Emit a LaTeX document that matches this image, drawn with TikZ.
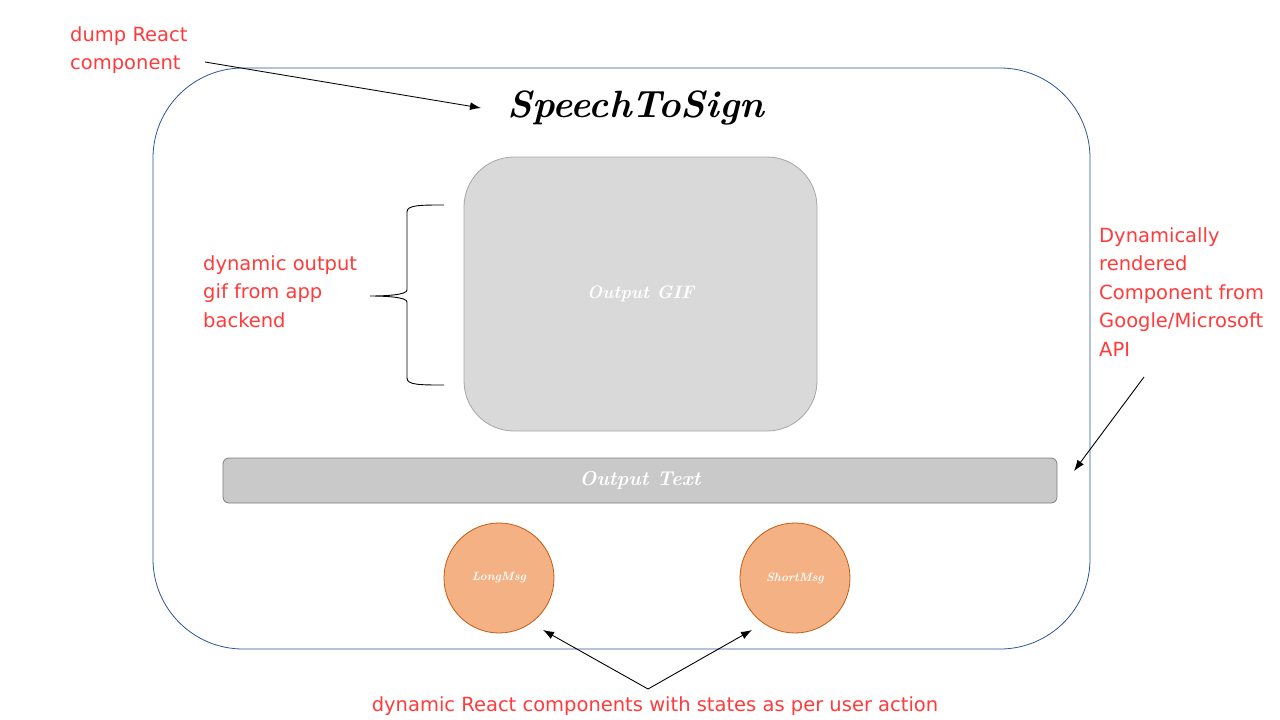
\documentclass[tikz,border=0pt]{standalone}
\usepackage{fontspec}
\usetikzlibrary{arrows.meta}
\newfontfamily\redfont{DejaVu Sans}
\definecolor{framecol}{HTML}{2F5597}
\definecolor{gifsfill}{HTML}{D9D9D9}
\definecolor{gifsline}{HTML}{A6A6A6}
\definecolor{txtfill}{HTML}{C9C9C9}
\definecolor{txtline}{HTML}{7F7F7F}
\definecolor{btnfill}{HTML}{F4B183}
\definecolor{btnline}{HTML}{C55A11}
\definecolor{notecol}{HTML}{FF3B3B}
\tikzset{
  note/.style={text=notecol, font=\redfont\fontsize{19.5}{28.5}\selectfont, align=left, inner sep=0pt},
  wlabel/.style={text=white},
  btn/.style={circle, draw=btnline, fill=btnfill, line width=0.8pt, minimum size=110pt, inner sep=0pt, text=white, font=\bfseries\itshape\fontsize{12}{14}\selectfont},
  arr/.style={-{Latex[length=11pt,width=8pt]}, line width=0.9pt, black}
}
\begin{document}
\begin{tikzpicture}[x=1pt,y=-1pt]
\useasboundingbox (0,0) rectangle (1280,720);
\fill[white] (0,0) rectangle (1280,720);
% outer frame
\node[draw=framecol, line width=0.8pt, rounded corners=90pt, minimum width=937pt, minimum height=581pt, inner sep=0pt] (frame) at (621.5,358.5) {};
% title
\node[font=\bfseries\itshape\fontsize{38}{44}\selectfont, inner sep=0pt] (title) at (636,108) {SpeechToSign};
% gif box
\node[draw=gifsline, fill=gifsfill, line width=0.8pt, rounded corners=50pt, minimum width=353pt, minimum height=274pt, inner sep=0pt, wlabel, font=\bfseries\itshape\fontsize{18}{22}\selectfont] (gif) at (640.5,294) {Output GIF};
% output text bar
\node[draw=txtline, fill=txtfill, line width=0.8pt, rounded corners=6pt, minimum width=834pt, minimum height=45pt, inner sep=0pt, wlabel, font=\bfseries\itshape\fontsize{20}{24}\selectfont] (outtext) at (640,480.5) {Output Text};
% buttons
\node[btn] (long) at (499,578) {LongMsg};
\node[btn] (short) at (795,578) {ShortMsg};
% notes
\node[note, anchor=north west] (n1) at (70,26) {dump React\\component};
\node[note, anchor=north west] (n2) at (203,255) {dynamic output\\gif from app\\backend};
\node[note, anchor=north west] (n3) at (1099,227) {Dynamically\\rendered\\Component from\\Google/Microsoft\\API};
\node[note, anchor=base] (n4) at (655,711) {dynamic React components with states as per user action};
% arrows
\coordinate (a1s) at (205,62);
\coordinate (a1e) at (481,108);
\draw[arr] (a1s) -- (a1e);
\coordinate (a2s) at (1144,377);
\coordinate (a2e) at (1074,471);
\draw[arr] (a2s) -- (a2e);
\coordinate (a3s) at (648,689);
\coordinate (a3l) at (543,630);
\coordinate (a3r) at (752,630);
\draw[arr] (a3s) -- (a3l);
\draw[arr] (a3s) -- (a3r);
% brace
\draw[line width=0.9pt] (444,205) .. controls (420,205) and (407,205) .. (407,212)
  -- (407,290) .. controls (407,295) and (385,296) .. (370,296)
  .. controls (385,296) and (407,297) .. (407,302)
  -- (407,378) .. controls (407,385) and (420,385) .. (444,385);
\end{tikzpicture}
\end{document}
